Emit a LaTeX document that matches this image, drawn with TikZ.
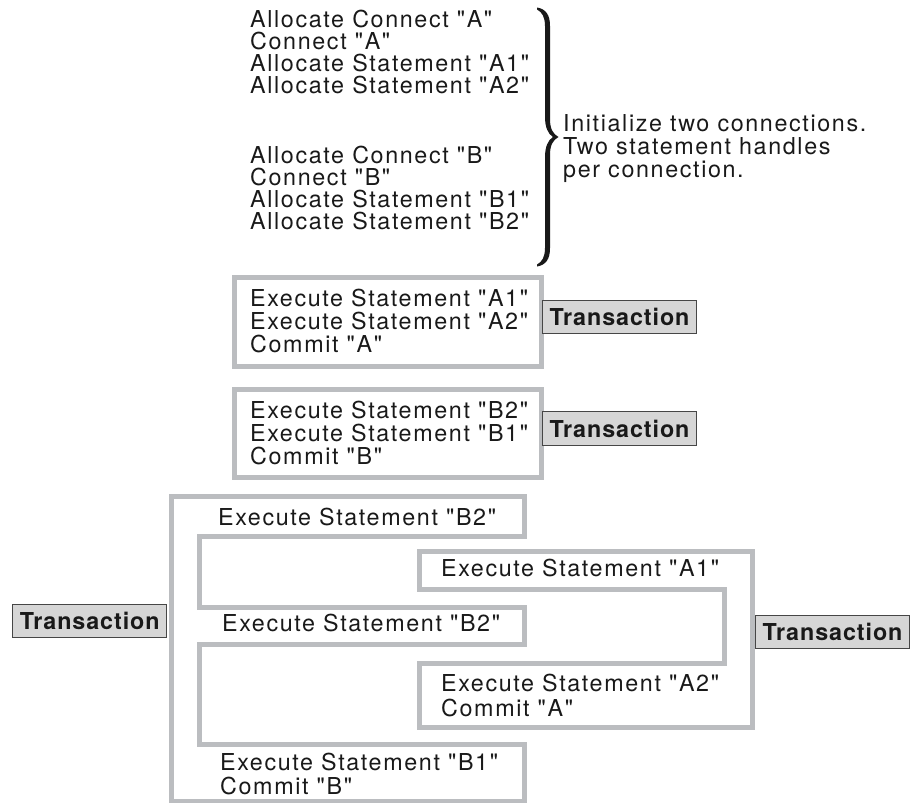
\documentclass[tikz,border=0pt]{standalone}
\usepackage{fontspec}
\setmainfont{TeX Gyre Heros}
\newfontfamily\bodyfont[LetterSpace=7]{TeX Gyre Heros}
\newfontfamily\tagfont[LetterSpace=4]{TeX Gyre Heros}
\definecolor{framegray}{RGB}{187,189,192}
\definecolor{tagfill}{RGB}{214,214,214}
\definecolor{tagline}{RGB}{70,70,70}
\definecolor{ink}{RGB}{25,25,25}
\tikzset{
  ln/.style={anchor=base west, inner sep=0pt, text=ink,
    font=\bodyfont\fontsize{23.3}{27}\selectfont},
  frame/.style={draw=framegray, line width=5pt, line join=miter},
  tag/.style={draw=tagline, fill=tagfill, line width=1.2pt, inner sep=0pt,
    minimum width=154pt, minimum height=33.5pt, text=ink,
    font=\tagfont\bfseries\fontsize{23.3}{27}\selectfont},
}
\begin{document}
\begin{tikzpicture}[x=1pt,y=-1pt]
\useasboundingbox (0,0) rectangle (911,803);

% initialisation block
\node[ln] (i1) at (250,27.5)  {Allocate Connect "A"};
\node[ln] (i2) at (250,49.7)  {Connect "A"};
\node[ln] (i3) at (250,71.7)  {Allocate Statement "A1"};
\node[ln] (i4) at (250,93.8)  {Allocate Statement "A2"};
\node[ln] (i5) at (250,163)   {Allocate Connect "B"};
\node[ln] (i6) at (250,185.2) {Connect "B"};
\node[ln] (i7) at (250,207.3) {Allocate Statement "B1"};
\node[ln] (i8) at (250,229.5) {Allocate Statement "B2"};

% right brace
\fill[ink] (537,7.5) .. controls (546,9) and (550,15) .. (550,26)
  -- (550,119) .. controls (550,129) and (553,134) .. (558.5,137)
  .. controls (553,140) and (550,145) .. (550,155)
  -- (550,248) .. controls (550,259) and (546,265) .. (537,266.5)
  -- (537,264.5) .. controls (542,262) and (545,257) .. (545,248)
  -- (545,157) .. controls (545,147) and (548,140) .. (553,137)
  .. controls (548,134) and (545,127) .. (545,117)
  -- (545,26) .. controls (545,17) and (542,12) .. (537,9.5) -- cycle;

\node[ln] (n1) at (563,131) {Initialize two connections.};
\node[ln] (n2) at (563,154) {Two statement handles};
\node[ln] (n3) at (563,177) {per connection.};

% serial transactions
\draw[frame] (234,277.5) rectangle (541,366);
\node[ln] (a1) at (250,306.7) {Execute Statement "A1"};
\node[ln] (a2) at (250,329.3) {Execute Statement "A2"};
\node[ln] (a3) at (250,352.7) {Commit "A"};
\node[tag] (ta) at (619.5,317) {Transaction};

\draw[frame] (234,389) rectangle (541,477.5);
\node[ln] (b1) at (250,418.4) {Execute Statement "B2"};
\node[ln] (b2) at (250,441)   {Execute Statement "B1"};
\node[ln] (b3) at (250,464.4) {Commit "B"};
\node[tag] (tb) at (619.5,428.5) {Transaction};

% interleaved transactions
\draw[frame] (171,496) -- (524,496) -- (524,536) -- (199.5,536)
  -- (199.5,607.5) -- (524,607.5) -- (524,644.5) -- (199.5,644.5)
  -- (199.5,744) -- (524,744) -- (524,801.5) -- (171,801.5) -- cycle;
\draw[frame] (419,551) -- (752.5,551) -- (752.5,727.5) -- (419,727.5)
  -- (419,663.5) -- (724,663.5) -- (724,589.5) -- (419,589.5) -- cycle;

\node[ln] (c1) at (218,525)   {Execute Statement "B2"};
\node[ln] (c2) at (441,576)   {Execute Statement "A1"};
\node[ln] (c3) at (222,631.7) {Execute Statement "B2"};
\node[ln] (c4) at (441,691.7) {Execute Statement "A2"};
\node[ln] (c5) at (441,716)   {Commit "A"};
\node[ln] (c6) at (220,770)   {Execute Statement "B1"};
\node[ln] (c7) at (220,794.5) {Commit "B"};

\node[tag] (tl) at (89.7,621) {Transaction};
\node[tag] (tr) at (832.5,632) {Transaction};
\end{tikzpicture}
\end{document}
